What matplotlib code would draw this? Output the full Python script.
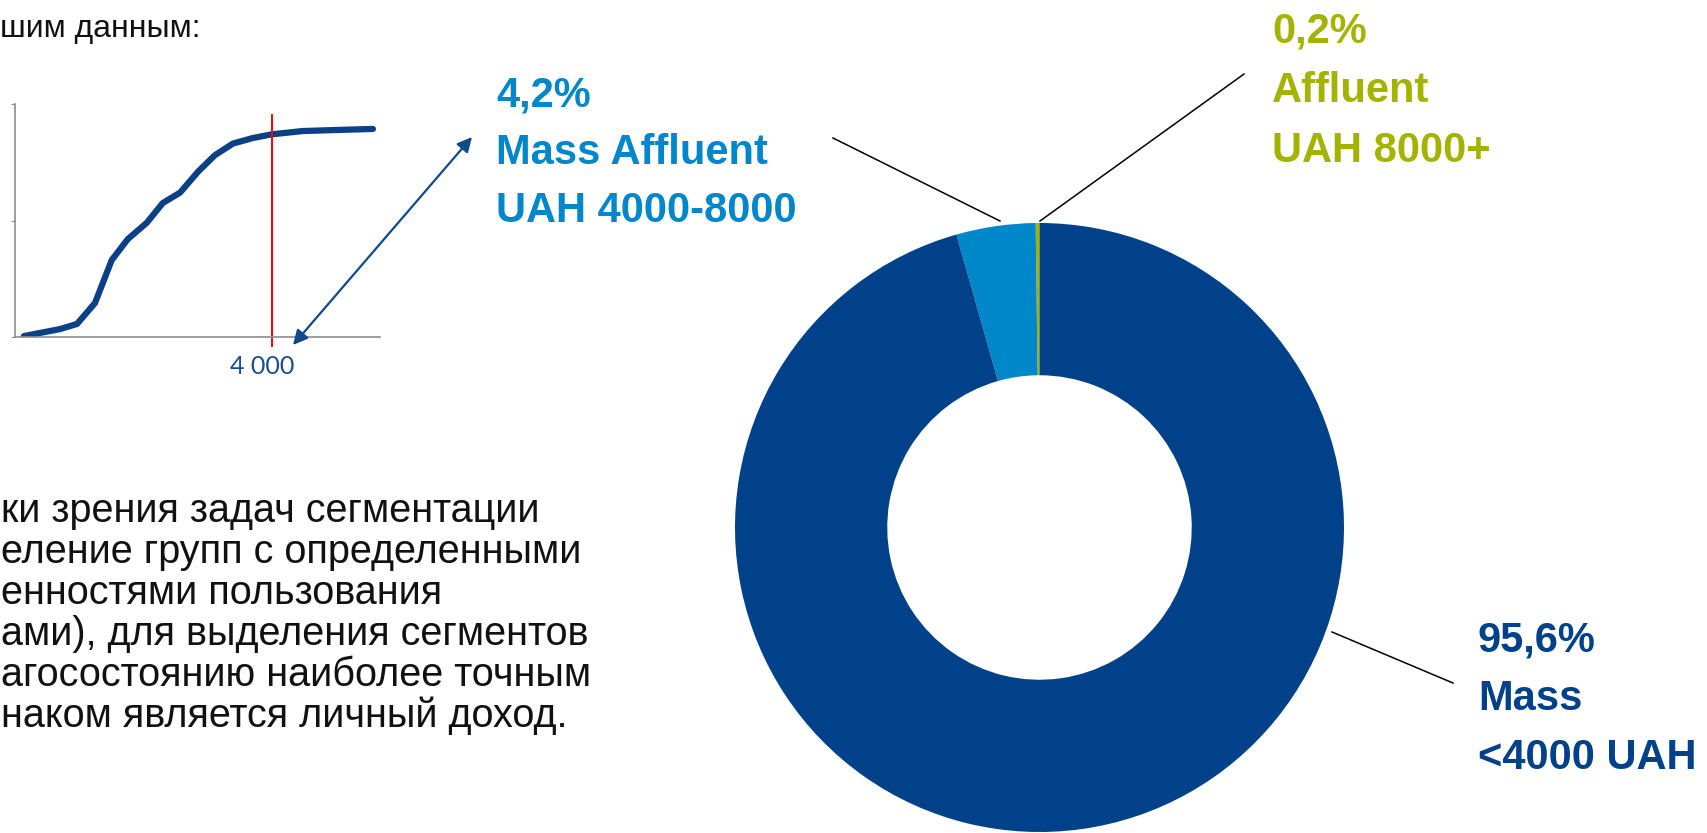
import matplotlib.pyplot as plt
import numpy as np

# small cumulative curve (income, UAH -> share of population, %)
income = [140, 700, 965, 1245, 1505, 1755, 2050, 2300, 2570, 2850, 3110, 3390, 3700, 4000, 4480, 4950, 5570]
cum_share = [0.4, 3.4, 5.6, 14.6, 33, 42, 49, 57.5, 62, 71, 78, 83, 85.4, 87, 88.4, 88.8, 89.3]
threshold = 4000
threshold_label = '4 000'

# donut segments (counter-clockwise from the top)
segments = ['Affluent', 'Mass Affluent', 'Mass']
shares = [0.2, 4.2, 95.6]
seg_colors = ['#a4b300', '#0087c9', '#004189']
seg_labels = [['0,2%', 'Affluent', 'UAH 8000+'],
              ['4,2%', 'Mass Affluent', 'UAH 4000-8000'],
              ['95,6%', 'Mass', '<4000 UAH']]

top_text = 'шим данным:'
body_lines = ['ки зрения задач сегментации',
              'еление групп с определенными',
              'енностями пользования',
              'ами), для выделения сегментов',
              'агосостоянию наиболее точным',
              'наком является личный доход.']

W, H = 1708, 833
fig = plt.figure(figsize=(W / 100, H / 100), dpi=100)

def px_rect(l, t, r, b):
    return [l / W, (H - b) / H, (r - l) / W, (b - t) / H]

# --- little line chart
ax = fig.add_axes(px_rect(15, 104, 380, 337))
ax.plot(income, cum_share, color='#0b3f86', lw=4.5, solid_capstyle='round', solid_joinstyle='round')
ax.plot([threshold, threshold], [-3.9, 95.3], color='#ff0000', lw=1.4, clip_on=False)
ax.set_xlim(0, 5680)
ax.set_ylim(0, 100)
for s in ['top', 'right']:
    ax.spines[s].set_visible(False)
for s in ['left', 'bottom']:
    ax.spines[s].set_color('#8c8c8c')
    ax.spines[s].set_linewidth(1.2)
ax.set_xticks([])
ax.set_yticks([0, 50, 100])
ax.tick_params(axis='y', length=3, color='#8c8c8c', labelleft=False)
ax.annotate(threshold_label, xy=(threshold, 0), xytext=(-7, -21), textcoords='offset points',
            ha='center', va='center', fontsize=18, color='#1a4d8f', family='Lato')

# --- donut
ax2 = fig.add_axes(px_rect(1039.5 - 304.5, 527.5 - 304.5, 1039.5 + 304.5, 527.5 + 304.5))
ax2.pie(shares, colors=seg_colors, startangle=90, counterclock=True,
        wedgeprops=dict(width=0.5, linewidth=0))
ax2.set_xlim(-1, 1)
ax2.set_ylim(-1, 1)
ax2.set_aspect('equal')
ax2.axis('off')

# --- overlay in pixel coordinates for text and leaders
ov = fig.add_axes([0, 0, 1, 1], zorder=5)
ov.set_xlim(0, W)
ov.set_ylim(H, 0)
ov.axis('off')
ov.patch.set_alpha(0)

ov.text(0, 29, top_text, fontsize=23, family='Liberation Sans', va='center', ha='left', color='#111111')
for i, line in enumerate(body_lines):
    ov.text(1, 511 + i * 41, line, fontsize=28.5, family='Liberation Sans', va='center', ha='left', color='#111111')

label_pos = [(1272, 31, 60), (496, 95, 58), (1478, 641, 58.3)]
for lines, col, (lx, ly, step) in zip(seg_labels, seg_colors, label_pos):
    for j, t in enumerate(lines):
        ov.text(lx, ly + j * step, t, fontsize=30, fontweight='bold', family='Liberation Sans',
                color=col, va='center', ha='left')

leaders = [((1244, 74), (1040, 221)), ((833, 138), (1000, 221)), ((1453, 683), (1332, 632))]
for (x0, y0), (x1, y1) in leaders:
    ov.plot([x0, x1], [y0, y1], color='black', lw=1.1)

ov.annotate('', xy=(472, 137), xytext=(293, 345),
            arrowprops=dict(arrowstyle='<|-|>', color='#0f4a8c', lw=1.6, mutation_scale=22,
                            shrinkA=0, shrinkB=0))

plt.savefig('out.png', dpi=100)
